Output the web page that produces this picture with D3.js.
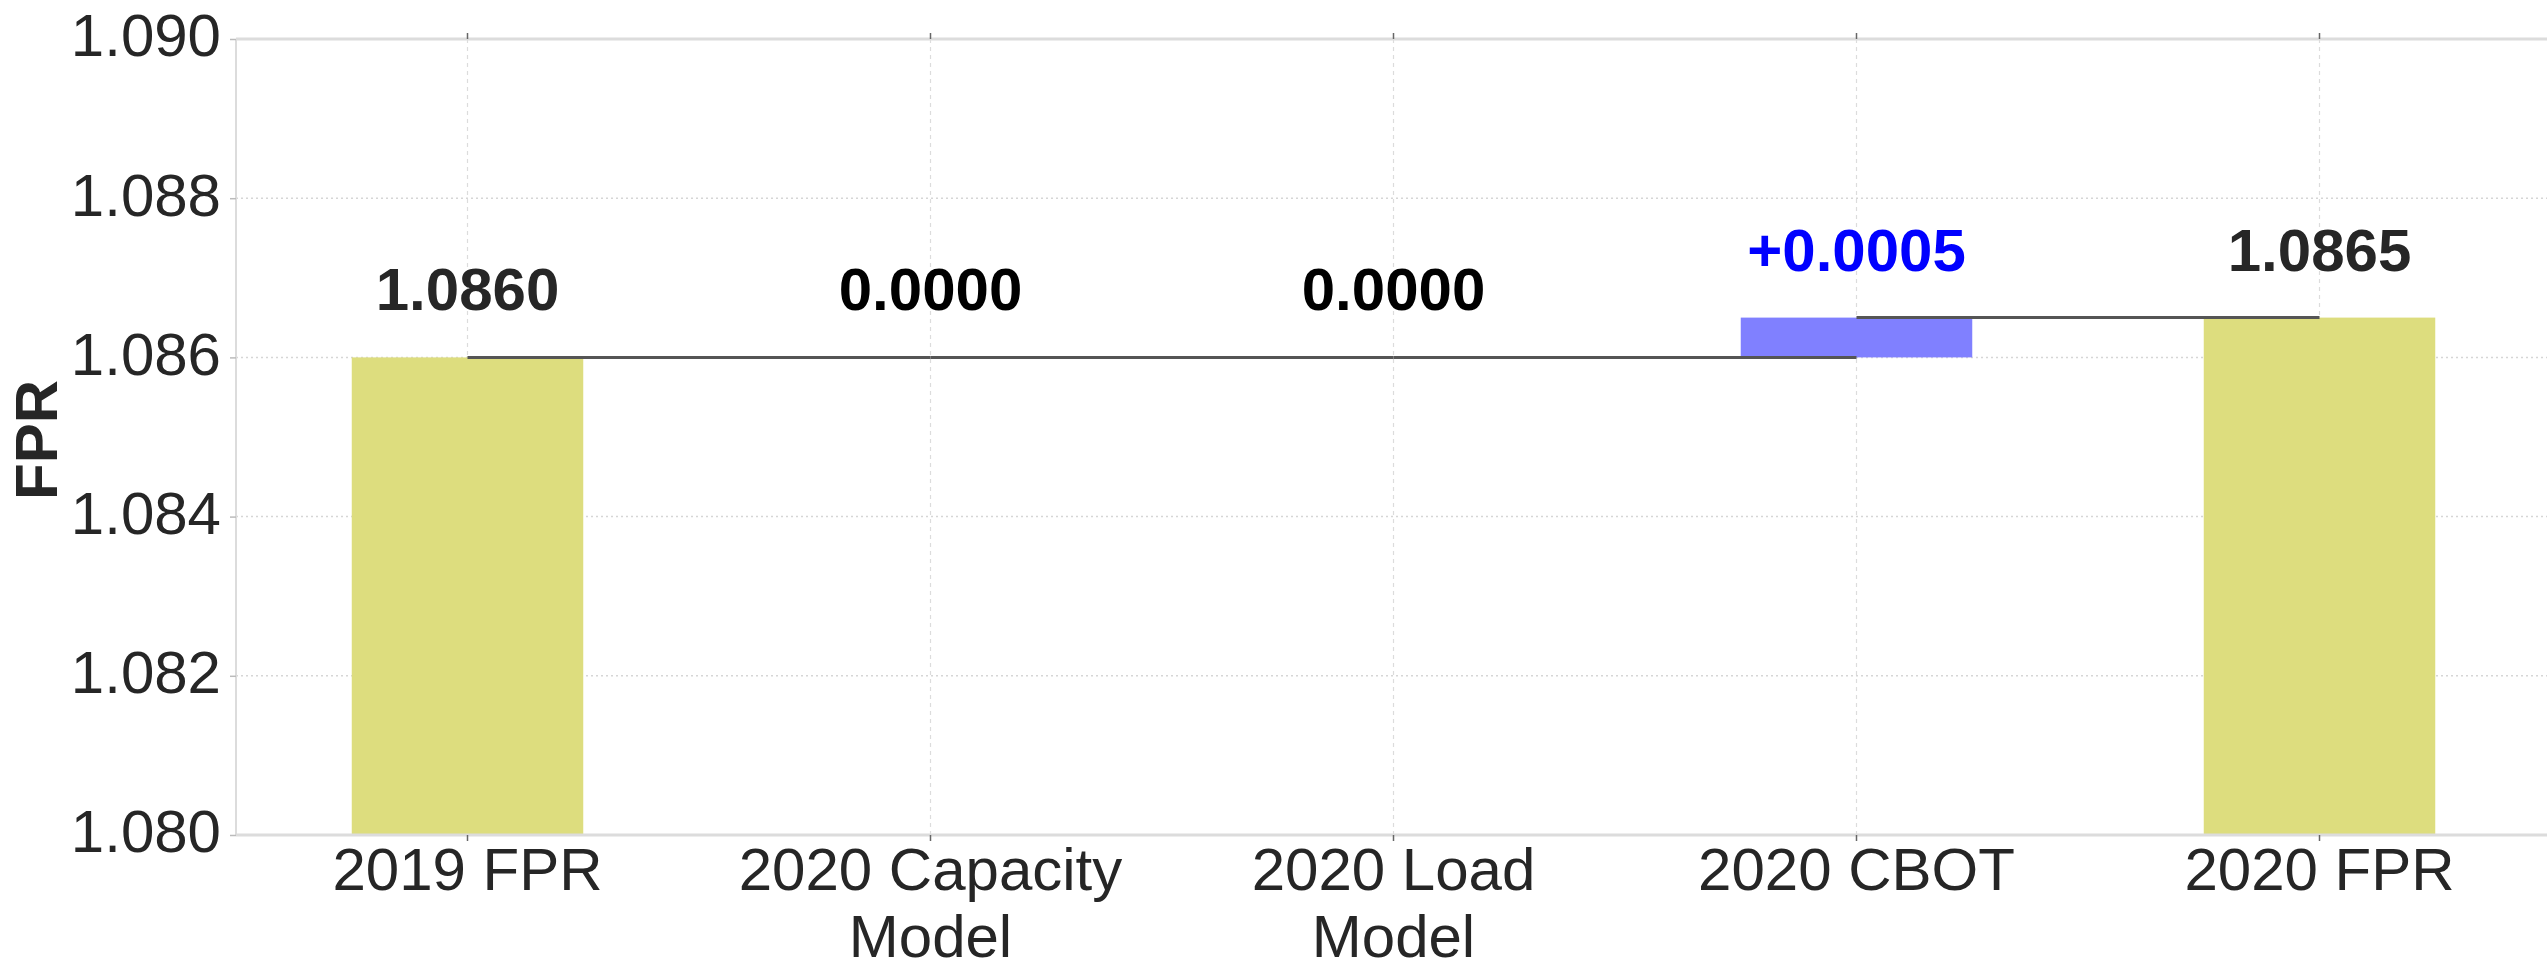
<!DOCTYPE html>
<html>
<head>
<meta charset="utf-8">
<script src="https://cdn.jsdelivr.net/npm/d3@7"></script>
<style>
  html, body { margin: 0; padding: 0; background: #ffffff; }
  svg { display: block; font-family: "Liberation Sans", Arial, Helvetica, sans-serif; }
</style>
</head>
<body>
<svg id="chart" width="2547" height="966"></svg>
<script>
// ---------- data ----------
const categories = ["2019 FPR", "2020 Capacity Model", "2020 Load Model", "2020 CBOT", "2020 FPR"];
const categoryLines = [["2019 FPR"], ["2020 Capacity", "Model"], ["2020 Load", "Model"], ["2020 CBOT"], ["2020 FPR"]];
const values = [1.0860, 0.0000, 0.0000, 0.0005, 1.0865];
const kinds = ["total", "delta", "delta", "delta", "total"];
const yTicks = [1.080, 1.082, 1.084, 1.086, 1.088, 1.090];
const yDomain = [1.080, 1.090];
const yLabel = "FPR";

// ---------- layout ----------
const W = 2547, H = 966;
const mLeft = 236, mTop = 39, mBottom = 835;
const band = 463;
const svg = d3.select("#chart");
svg.append("rect").attr("width", W).attr("height", H).attr("fill", "#ffffff");

const x = d3.scaleBand().domain(categories).range([mLeft, mLeft + band * categories.length]).padding(0);
const y = d3.scaleLinear().domain(yDomain).range([mBottom, mTop]);
const cx = c => x(c) + x.bandwidth() / 2;
const barW = x.bandwidth() * 0.5;

// running totals
let running = 0;
const bars = categories.map((c, i) => {
  let y0, y1;
  if (kinds[i] === "total") { y0 = yDomain[0]; y1 = values[i]; running = values[i]; }
  else { y0 = running; y1 = running + values[i]; running = y1; }
  return { c, i, y0, y1, level: running, kind: kinds[i], v: values[i] };
});

const mRight = W + 10;

// ---------- grid ----------
const grid = svg.append("g");
grid.selectAll("line.h").data(yTicks).join("line")
  .attr("x1", mLeft).attr("x2", mRight)
  .attr("y1", d => y(d)).attr("y2", d => y(d))
  .attr("stroke", "#d6d6d6").attr("stroke-width", 1.5).attr("stroke-dasharray", "2,3");
grid.selectAll("line.v").data(categories).join("line")
  .attr("x1", d => cx(d)).attr("x2", d => cx(d))
  .attr("y1", mTop).attr("y2", mBottom)
  .attr("stroke", "#dcdcdc").attr("stroke-width", 1.2).attr("stroke-dasharray", "4,4");

// ---------- bars ----------
const barColor = d => d.kind === "total" ? "#dddd7e" : (d.v >= 0 ? "#8080ff" : "#ff8080");
svg.append("g").selectAll("rect").data(bars.filter(d => d.y1 !== d.y0)).join("rect")
  .attr("x", d => cx(d.c) - barW / 2)
  .attr("width", barW)
  .attr("y", d => y(Math.max(d.y0, d.y1)))
  .attr("height", d => Math.abs(y(d.y0) - y(d.y1)))
  .attr("fill", d => barColor(d));

// ---------- connectors ----------
const conn = svg.append("g");
for (let i = 0; i < bars.length - 1; i++) {
  conn.append("line")
    .attr("x1", cx(bars[i].c)).attr("x2", cx(bars[i + 1].c))
    .attr("y1", y(bars[i].level)).attr("y2", y(bars[i].level))
    .attr("stroke", "#555555").attr("stroke-width", 3);
}

// ---------- spines ----------
svg.append("line").attr("x1", mLeft).attr("x2", mRight).attr("y1", mTop).attr("y2", mTop)
  .attr("stroke", "#dcdcdc").attr("stroke-width", 3);
svg.append("line").attr("x1", mLeft).attr("x2", mRight).attr("y1", mBottom).attr("y2", mBottom)
  .attr("stroke", "#dcdcdc").attr("stroke-width", 3);
svg.append("line").attr("x1", mLeft).attr("x2", mLeft).attr("y1", mTop).attr("y2", mBottom)
  .attr("stroke", "#dcdcdc").attr("stroke-width", 2);

// ---------- axes ----------
const yAxis = d3.axisLeft(y).tickValues(yTicks).tickFormat(d3.format(".3f")).tickSize(6).tickPadding(9);
const gy = svg.append("g").attr("transform", `translate(${mLeft},0)`).call(yAxis);
gy.select(".domain").remove();
gy.selectAll(".tick line").attr("stroke", "#bbbbbb").attr("stroke-width", 1.5);
gy.selectAll(".tick text").attr("font-size", 60).attr("fill", "#262626")
  .attr("font-family", "Liberation Sans, Arial, sans-serif").attr("dy", "0.28em");

const xAxis = d3.axisBottom(x).tickSize(6).tickFormat(() => "");
const gx = svg.append("g").attr("transform", `translate(0,${mBottom})`).call(xAxis);
gx.select(".domain").remove();
gx.selectAll(".tick line").attr("stroke", "#666666").attr("stroke-width", 1.5);

const xTop = d3.axisTop(x).tickSize(6).tickFormat(() => "");
const gt = svg.append("g").attr("transform", `translate(0,${mTop})`).call(xTop);
gt.select(".domain").remove();
gt.selectAll(".tick line").attr("stroke", "#666666").attr("stroke-width", 1.5);

// x tick labels (multi-line)
const xl = svg.append("g").selectAll("text").data(categories).join("text")
  .attr("x", d => cx(d)).attr("y", 890)
  .attr("text-anchor", "middle").attr("font-size", 60).attr("fill", "#262626");
xl.each(function (d, i) {
  const t = d3.select(this);
  categoryLines[i].forEach((ln, k) => {
    t.append("tspan").attr("x", cx(d)).attr("dy", k === 0 ? 0 : 67).text(ln);
  });
});

// y label
svg.append("text").attr("transform", `translate(57,440) rotate(-90)`)
  .attr("text-anchor", "middle").attr("font-size", 60).attr("font-weight", "bold")
  .attr("fill", "#262626").text(yLabel);

// ---------- value labels ----------
const fmt = d3.format(".4f");
svg.append("g").selectAll("text").data(bars).join("text")
  .attr("x", d => cx(d.c))
  .attr("y", d => y(d.kind === "total" ? d.y1 : Math.max(d.y0, d.y1)) - 47)
  .attr("text-anchor", "middle").attr("font-size", 60).attr("font-weight", "bold")
  .attr("fill", d => d.kind === "total" ? "#262626" : (d.v > 0 ? "#0000ff" : (d.v < 0 ? "#ff0000" : "#000000")))
  .text(d => d.kind === "total" ? fmt(d.v) : (d.v > 0 ? "+" + fmt(d.v) : fmt(d.v)));
</script>
</body>
</html>
